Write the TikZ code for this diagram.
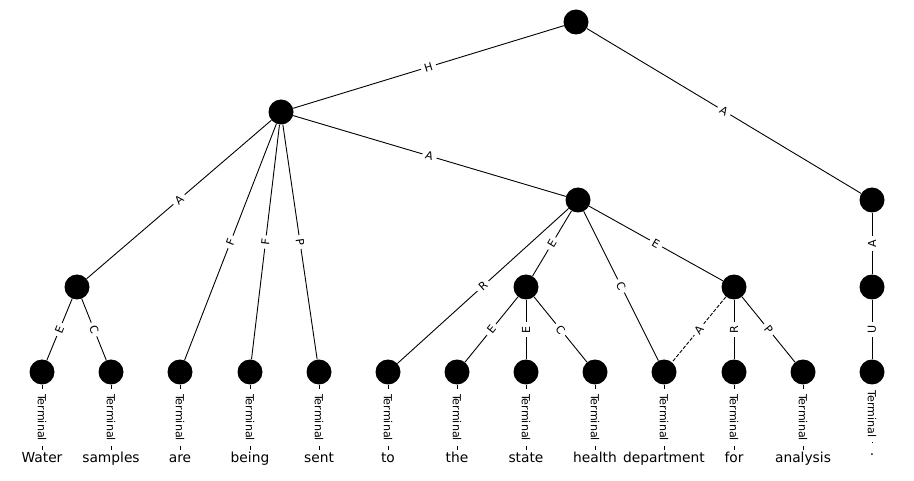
\documentclass[tikz,border=0pt]{standalone}
\usepackage{fontspec}
\setmainfont{DejaVu Sans}
\begin{document}
\begin{tikzpicture}[x=1pt,y=-1pt,
  unit/.style={circle,fill=black,minimum size=25pt,inner sep=0pt},
  edge/.style={line width=0.9pt},
  remote/.style={edge,dash pattern=on 3.7pt off 1.6pt},
  lab/.style={fill=white,inner sep=3.5pt,font=\fontsize{11.1}{13}\selectfont,midway},
  sl/.style={lab,sloped},
  vl/.style={lab,rotate=90},
  tl/.style={lab,rotate=-90,inner sep=5pt},
  word/.style={anchor=base,inner sep=1pt,text height=11pt,text depth=3pt,font=\fontsize{13.8}{16}\selectfont}]
\useasboundingbox (0,0) rectangle (914,481);

% non-terminal units
\node[unit] (r) at (576,22) {};
\node[unit] (a) at (281,112) {};
\node[unit] (b) at (872,200) {};
\node[unit] (c) at (578,200) {};
\node[unit] (d) at (77,287) {};
\node[unit] (e) at (526,287) {};
\node[unit] (f) at (734,287) {};
\node[unit] (g) at (872,287) {};

% terminal units
\foreach \i/\x in {1/42,2/111,3/180,4/250,5/319,6/388,7/457,8/526,9/595,10/664,11/734,12/803,13/872}
  \node[unit] (t\i) at (\x,372) {};

% words
\node[word] (w1) at (42,462.5) {Water};
\node[word] (w2) at (111,462.5) {samples};
\node[word] (w3) at (180,462.5) {are};
\node[word] (w4) at (250,462.5) {being};
\node[word] (w5) at (319,462.5) {sent};
\node[word] (w6) at (388,462.5) {to};
\node[word] (w7) at (457,462.5) {the};
\node[word] (w8) at (526,462.5) {state};
\node[word] (w9) at (595,462.5) {health};
\node[word] (w10) at (664,462.5) {department};
\node[word] (w11) at (734,462.5) {for};
\node[word] (w12) at (803,462.5) {analysis};
\node[word] (w13) at (872,455) {.};

% edges between units
\draw[edge] (r) -- node[sl] {H} (a);
\draw[edge] (r) -- node[sl] {A} (b);
\draw[edge] (a) -- node[sl] {A} (d);
\draw[edge] (a) -- node[sl] {F} (t3);
\draw[edge] (a) -- node[sl] {F} (t4);
\draw[edge] (a) -- node[sl] {P} (t5);
\draw[edge] (a) -- node[sl] {A} (c);
\draw[edge] (c) -- node[sl] {R} (t6);
\draw[edge] (c) -- node[sl] {E} (e);
\draw[edge] (c) -- node[sl] {C} (t10);
\draw[edge] (c) -- node[sl] {E} (f);
\draw[edge] (b) -- node[vl] {A} (g);
\draw[edge] (g) -- node[vl] {U} (t13);
\draw[edge] (d) -- node[sl] {E} (t1);
\draw[edge] (d) -- node[sl] {C} (t2);
\draw[edge] (e) -- node[sl] {E} (t7);
\draw[edge] (e) -- node[vl] {E} (t8);
\draw[edge] (e) -- node[sl] {C} (t9);
\draw[remote] (f) -- node[sl] {A} (t10);
\draw[edge] (f) -- node[vl] {R} (t11);
\draw[edge] (f) -- node[sl] {P} (t12);

% terminal-to-word links
\foreach \i in {1,...,13}
  \draw[edge] (t\i) -- node[tl] {Terminal} (w\i);
\end{tikzpicture}
\end{document}
